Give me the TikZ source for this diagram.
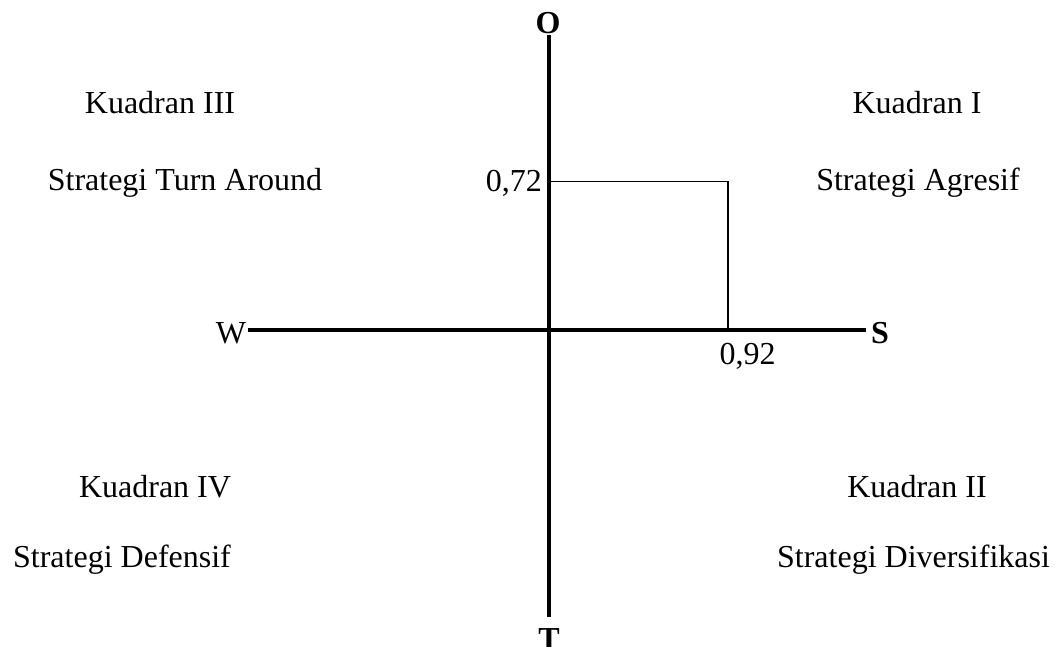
\documentclass[tikz,border=0pt]{standalone}
\usepackage{fontspec}
\setmainfont{Liberation Serif}
\begin{document}
\begin{tikzpicture}[x=1pt,y=-1pt,
  lbl/.style={inner sep=0pt,anchor=base,font=\fontsize{32}{38}\selectfont},
  axislbl/.style={lbl,font=\fontsize{32}{38}\selectfont\bfseries},
  axisline/.style={line width=4pt},
  thinline/.style={line width=1.1pt}]
\useasboundingbox (0,0) rectangle (1056,646);
% axis end points
\coordinate (top) at (549,35);
\coordinate (bot) at (549,617);
\coordinate (left) at (248,330);
\coordinate (right) at (866,330);
\coordinate (orig) at (549,330);
\coordinate (ry) at (549,181.5);
\coordinate (corner) at (728,181.5);
\coordinate (rx) at (728,330);
% axes
\draw[axisline] (top) -- (bot);
\draw[axisline] (left) -- (right);
% rectangle lines
\draw[thinline] (ry) -- (corner) -- (rx);
% axis labels
\node[axislbl] (O) at (548,33) {O};
\node[axislbl] (T) at (549,649) {T};
\node[lbl] (W) at (231,343) {W};
\node[axislbl] (S) at (880,343) {S};
% values
\node[lbl,anchor=base east] (v72) at (542,191) {0,72};
\node[lbl] (v92) at (747.5,364) {0,92};
% quadrant texts
\node[lbl] (k3) at (160,113) {Kuadran III};
\node[lbl] (s3) at (185,190) {Strategi Turn Around};
\node[lbl] (k1) at (917,113) {Kuadran I};
\node[lbl] (s1) at (918,190) {Strategi Agresif};
\node[lbl] (k4) at (155,497) {Kuadran IV};
\node[lbl] (s4) at (122,567) {Strategi Defensif};
\node[lbl] (k2) at (917,497) {Kuadran II};
\node[lbl] (s2) at (913.5,567) {Strategi Diversifikasi};
\end{tikzpicture}
\end{document}
